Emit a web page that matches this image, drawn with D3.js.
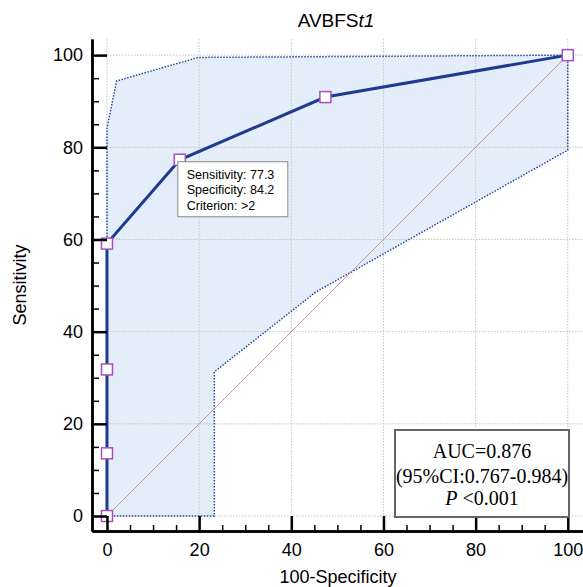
<!DOCTYPE html>
<html>
<head>
<meta charset="utf-8">
<script src="https://cdn.jsdelivr.net/npm/d3@7"></script>
<style>
  body { margin: 0; background: #fff; }
  svg { display: block; }
</style>
</head>
<body>
<div id="chartArea"></div>
<script>
// ROC points (100-specificity, sensitivity)
var rocX = [0, 0, 0, 0, 15.8, 47.4, 100];
var rocY = [0, 13.6, 31.8, 59.1, 77.3, 90.9, 100];

// 95% confidence band
var ciUpperX = [0, 0, 2.1, 19.8, 100];
var ciUpperY = [0, 84.2, 94.4, 99.5, 100];
var ciLowerX = [0, 23.3, 23.3, 45.3, 100, 100];
var ciLowerY = [0, 0, 31.3, 48.6, 79.4, 100];

var xTicks = [0, 20, 40, 60, 80, 100];
var yTicks = [0, 20, 40, 60, 80, 100];
var minorTicks = [5, 10, 15, 25, 30, 35, 45, 50, 55, 65, 70, 75, 85, 90, 95];

var tipLines = ['Sensitivity: 77.3', 'Specificity: 84.2', 'Criterion: >2'];
var aucLines = ['AUC=0.876', '(95%CI:0.767-0.984)'];

var w = 583, h = 587;
var sans = 'Liberation Sans, Arial, sans-serif';
var serif = 'Liberation Serif, Times New Roman, serif';

var svg = d3.select('#chartArea').append('svg')
    .attr('width', w)
    .attr('height', h);

var x = d3.scaleLinear().domain([-3.25, 103.3]).range([92, 583]);
var y = d3.scaleLinear().domain([-3.25, 103.5]).range([531, 39]);

// confidence band
var band = ciUpperX.map(function (v, i) { return [v, ciUpperY[i]]; });
var lower = ciLowerX.map(function (v, i) { return [v, ciLowerY[i]]; }).reverse();
band = band.concat(lower);

var line = d3.line()
    .x(function (d) { return x(d[0]); })
    .y(function (d) { return y(d[1]); });

svg.append('path')
    .datum(band)
    .attr('d', line)
    .attr('fill', '#e4eefb')
    .attr('stroke', 'none');

// grid
svg.append('g').selectAll('line')
    .data(xTicks)
    .enter()
    .append('line')
    .attr('x1', function (d) { return x(d); })
    .attr('x2', function (d) { return x(d); })
    .attr('y1', y.range()[1])
    .attr('y2', y.range()[0])
    .attr('stroke', '#c4c4c4')
    .attr('stroke-dasharray', '1.5,1.5');

svg.append('g').selectAll('line')
    .data(yTicks)
    .enter()
    .append('line')
    .attr('y1', function (d) { return y(d); })
    .attr('y2', function (d) { return y(d); })
    .attr('x1', x.range()[0])
    .attr('x2', x.range()[1])
    .attr('stroke', '#c4c4c4')
    .attr('stroke-dasharray', '1.5,1.5');

svg.append('path')
    .datum(band)
    .attr('d', line)
    .attr('fill', 'none')
    .attr('stroke', '#2b4a9c')
    .attr('stroke-width', 1.5)
    .attr('stroke-dasharray', '1.5,1.5');

// diagonal reference
svg.append('line')
    .attr('x1', x(0)).attr('y1', y(0))
    .attr('x2', x(100)).attr('y2', y(100))
    .attr('stroke', '#c9949c')
    .attr('stroke-width', 1);

// roc curve
var roc = rocX.map(function (v, i) { return [v, rocY[i]]; });
svg.append('path')
    .datum(roc)
    .attr('d', line)
    .attr('fill', 'none')
    .attr('stroke', '#1f3a8f')
    .attr('stroke-width', 3);

svg.selectAll('rect.pt')
    .data(roc)
    .enter()
    .append('rect')
    .attr('class', 'pt')
    .attr('x', function (d) { return x(d[0]) - 5.5; })
    .attr('y', function (d) { return y(d[1]) - 5.5; })
    .attr('width', 11)
    .attr('height', 11)
    .attr('fill', '#fff')
    .attr('stroke', '#a64fc4')
    .attr('stroke-width', 1.5);

// axes
function styleAxis(g, major) {
    g.select('.domain').attr('stroke', '#000').attr('stroke-width', 2.5);
    g.selectAll('.tick line').attr('stroke', '#000').attr('stroke-width', major ? 2.5 : 1.5);
    g.selectAll('.tick text').attr('fill', '#000')
        .style('font-family', sans).style('font-size', '18px');
}

svg.append('g')
    .attr('transform', 'translate(0,531)')
    .call(d3.axisBottom(x).tickValues(minorTicks).tickSize(-6).tickSizeOuter(0).tickFormat(''))
    .call(styleAxis, false);
svg.append('g')
    .attr('transform', 'translate(0,531)')
    .call(d3.axisBottom(x).tickValues(xTicks).tickSize(-15).tickSizeOuter(0).tickPadding(12))
    .call(styleAxis, true);

svg.append('g')
    .attr('transform', 'translate(92,0)')
    .call(d3.axisLeft(y).tickValues(minorTicks).tickSize(-7).tickSizeOuter(0).tickFormat(''))
    .call(styleAxis, false);
svg.append('g')
    .attr('transform', 'translate(92,0)')
    .call(d3.axisLeft(y).tickValues(yTicks).tickSize(-15).tickSizeOuter(0).tickPadding(9))
    .call(styleAxis, true);

// title and labels
var title = svg.append('text')
    .attr('x', 336).attr('y', 27)
    .attr('text-anchor', 'middle')
    .style('font-family', sans).style('font-size', '19px');
title.append('tspan').text('AVBFS');
title.append('tspan').style('font-style', 'italic').text('t1');

svg.append('text')
    .attr('x', 338).attr('y', 583)
    .attr('text-anchor', 'middle')
    .style('font-family', sans).style('font-size', '18px')
    .text('100-Specificity');

svg.append('text')
    .attr('transform', 'translate(26,285) rotate(-90)')
    .attr('text-anchor', 'middle')
    .style('font-family', sans).style('font-size', '18px')
    .text('Sensitivity');

// tooltip box at the criterion point
var tx = x(rocX[4]) - 2, ty = y(rocY[4]) + 2;
svg.append('rect')
    .attr('x', tx).attr('y', ty)
    .attr('width', 110).attr('height', 55)
    .attr('fill', '#fff')
    .attr('stroke', '#888')
    .attr('stroke-width', 1);
svg.selectAll('text.tip')
    .data(tipLines)
    .enter()
    .append('text')
    .attr('class', 'tip')
    .attr('x', tx + 9)
    .attr('y', function (d, i) { return ty + 17 + i * 15.5; })
    .style('font-family', sans).style('font-size', '12.5px')
    .text(function (d) { return d; });

// AUC box
svg.append('rect')
    .attr('x', 395).attr('y', 430)
    .attr('width', 174).attr('height', 87)
    .attr('fill', '#fff')
    .attr('stroke', '#666')
    .attr('stroke-width', 2);
svg.selectAll('text.auc')
    .data(aucLines)
    .enter()
    .append('text')
    .attr('class', 'auc')
    .attr('x', 482)
    .attr('y', function (d, i) { return 458 + i * 24.5; })
    .attr('text-anchor', 'middle')
    .style('font-family', serif).style('font-size', '20px')
    .text(function (d) { return d; });
var pt = svg.append('text')
    .attr('x', 482).attr('y', 505)
    .attr('text-anchor', 'middle')
    .style('font-family', serif).style('font-size', '20px');
pt.append('tspan').style('font-style', 'italic').text('P');
pt.append('tspan').text(' <0.001');
</script>
</body>
</html>
